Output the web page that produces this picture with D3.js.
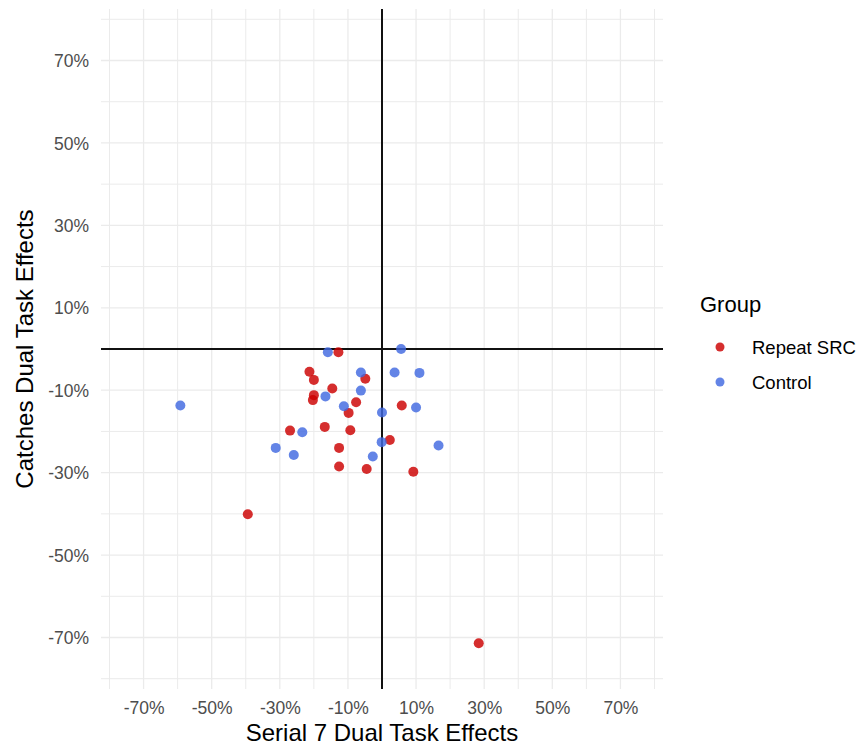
<!DOCTYPE html>
<html>
<head>
<meta charset="utf-8">
<script src="https://cdn.jsdelivr.net/npm/d3@7"></script>
<style>
  body { margin: 0; background: #fff; }
  svg text { font-family: "Liberation Sans", Arial, Helvetica, sans-serif; }
</style>
</head>
<body>
<div id="chart"></div>
<script>
// dual task effects (fractions)
const groups = ["Repeat SRC", "Control"];
const groupColors = ["#cc0000", "#4169e1"];

const srcSerial7 = [-0.128, -0.213, -0.200, -0.049, -0.146, -0.200, -0.203, -0.076, -0.098, 0.058,
                    -0.270, -0.168, -0.093, 0.023, -0.126, -0.126, -0.045, 0.092, -0.394, 0.284];
const srcCatches = [-0.008, -0.055, -0.075, -0.072, -0.096, -0.112, -0.124, -0.129, -0.155, -0.137,
                    -0.198, -0.189, -0.197, -0.221, -0.240, -0.285, -0.291, -0.298, -0.401, -0.714];

const ctrlSerial7 = [-0.159, 0.056, -0.062, 0.037, 0.110, -0.062, -0.166, -0.112, 0.000, 0.100,
                     -0.234, -0.312, -0.259, -0.001, -0.027, 0.166, -0.592];
const ctrlCatches = [-0.008, 0.000, -0.057, -0.057, -0.058, -0.101, -0.115, -0.139, -0.154, -0.142,
                     -0.202, -0.240, -0.257, -0.226, -0.261, -0.234, -0.137];

const majorBreaks = [-0.7, -0.5, -0.3, -0.1, 0.1, 0.3, 0.5, 0.7];
const minorBreaks = [-0.8, -0.6, -0.4, -0.2, 0, 0.2, 0.4, 0.6, 0.8];

const width = 863, height = 747;
const panel = { left: 101, right: 663, top: 9, bottom: 689 };

const svg = d3.select("#chart").append("svg")
    .attr("width", width)
    .attr("height", height);

const x = d3.scaleLinear().domain([-0.825, 0.825]).range([panel.left, panel.right]);
const y = d3.scaleLinear().domain([-0.825, 0.825]).range([panel.bottom, panel.top]);
const color = d3.scaleOrdinal().domain(groups).range(groupColors);
// plain hyphen for negatives, like the original
const pct = d3.formatLocale({ decimal: ".", thousands: ",", grouping: [3], currency: ["$", ""], minus: "-" }).format(".0%");

const points = [];
srcSerial7.forEach((v, i) => points.push({ group: groups[0], x: v, y: srcCatches[i] }));
ctrlSerial7.forEach((v, i) => points.push({ group: groups[1], x: v, y: ctrlCatches[i] }));

// grid
const grid = svg.append("g");
grid.selectAll(".vminor").data(minorBreaks).enter().append("line")
    .attr("x1", d => x(d)).attr("x2", d => x(d))
    .attr("y1", panel.top).attr("y2", panel.bottom)
    .style("stroke", "#ebebeb").style("stroke-width", 1);
grid.selectAll(".hminor").data(minorBreaks).enter().append("line")
    .attr("y1", d => y(d)).attr("y2", d => y(d))
    .attr("x1", panel.left).attr("x2", panel.right)
    .style("stroke", "#ebebeb").style("stroke-width", 1);
grid.selectAll(".vmajor").data(majorBreaks).enter().append("line")
    .attr("x1", d => x(d)).attr("x2", d => x(d))
    .attr("y1", panel.top).attr("y2", panel.bottom)
    .style("stroke", "#ebebeb").style("stroke-width", 1.3);
grid.selectAll(".hmajor").data(majorBreaks).enter().append("line")
    .attr("y1", d => y(d)).attr("y2", d => y(d))
    .attr("x1", panel.left).attr("x2", panel.right)
    .style("stroke", "#ebebeb").style("stroke-width", 1.3);

// zero lines
svg.append("line")
    .attr("x1", panel.left).attr("x2", panel.right)
    .attr("y1", y(0)).attr("y2", y(0))
    .style("stroke", "#111").style("stroke-width", 2);
svg.append("line")
    .attr("x1", x(0)).attr("x2", x(0))
    .attr("y1", panel.top).attr("y2", panel.bottom)
    .style("stroke", "#111").style("stroke-width", 2);

// axes (labels only, ggplot minimal style)
const xAxis = svg.append("g")
    .attr("transform", `translate(0,${panel.bottom + 8})`)
    .call(d3.axisBottom(x).tickValues(majorBreaks).tickFormat(pct).tickSize(0).tickPadding(0));
const yAxis = svg.append("g")
    .attr("transform", `translate(${panel.left - 12},0)`)
    .call(d3.axisLeft(y).tickValues(majorBreaks).tickFormat(pct).tickSize(0).tickPadding(0));
[xAxis, yAxis].forEach(a => {
    a.select(".domain").remove();
    a.selectAll("text")
        .style("font-size", "17.5px")
        .style("fill", "#4d4d4d")
        .style("font-family", "'Liberation Sans', Arial, sans-serif");
});
xAxis.selectAll("text").attr("dy", "0.95em");
yAxis.selectAll("text").attr("dy", "0.35em");

// points
svg.append("g").selectAll("circle")
    .data(points)
    .enter()
    .append("circle")
    .attr("cx", d => x(d.x))
    .attr("cy", d => y(d.y))
    .attr("r", 5)
    .style("fill", d => color(d.group))
    .style("fill-opacity", 0.82);

// axis titles
svg.append("text")
    .attr("x", (panel.left + panel.right) / 2)
    .attr("y", 741)
    .attr("text-anchor", "middle")
    .style("font-size", "24px")
    .style("fill", "#000")
    .text("Serial 7 Dual Task Effects");
svg.append("text")
    .attr("transform", `translate(33,${(panel.top + panel.bottom) / 2}) rotate(-90)`)
    .attr("text-anchor", "middle")
    .style("font-size", "24px")
    .style("fill", "#000")
    .text("Catches Dual Task Effects");

// legend
const legend = svg.append("g");
legend.append("text")
    .attr("x", 700)
    .attr("y", 312)
    .style("font-size", "22px")
    .style("fill", "#000")
    .text("Group");
const items = legend.selectAll(".legend-item")
    .data(groups)
    .enter()
    .append("g")
    .attr("transform", (d, i) => `translate(0,${347 + i * 35})`);
items.append("circle")
    .attr("cx", 720)
    .attr("cy", 0)
    .attr("r", 4.5)
    .style("fill", d => color(d))
    .style("fill-opacity", 0.82);
items.append("text")
    .attr("x", 752)
    .attr("y", 0)
    .attr("dy", "0.36em")
    .style("font-size", "18.5px")
    .style("fill", "#000")
    .text(d => d);
</script>
</body>
</html>
